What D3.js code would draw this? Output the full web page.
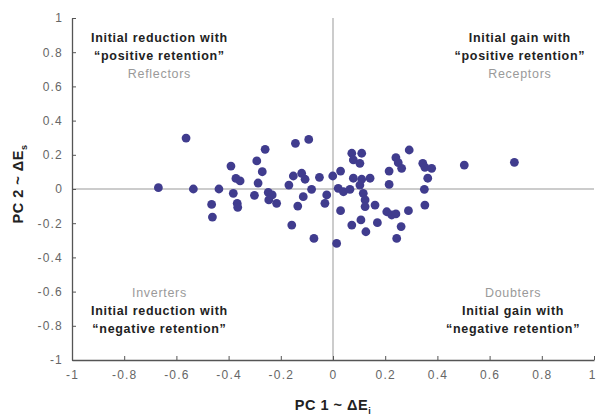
<!DOCTYPE html>
<html>
<head>
<meta charset="utf-8">
<script src="https://cdn.jsdelivr.net/npm/d3@7"></script>
<style>
  body { margin: 0; background: #fff; }
  svg { display: block; font-family: "Liberation Sans", Arial, sans-serif; }
</style>
</head>
<body>
<div id="chart"></div>
<script>
// PC1 (ΔE_i) and PC2 (ΔE_s) scores
const pc1 = [-0.669, -0.563, -0.535, -0.437, -0.465, -0.462, -0.391, -0.372, -0.356, -0.382,
  -0.367, -0.365, -0.26, -0.292, -0.271, -0.287, -0.301, -0.248, -0.233, -0.246,
  -0.216, -0.144, -0.152, -0.169, -0.135, -0.158, -0.093, -0.12, -0.107, -0.052,
  -0.082, -0.114, -0.073, 0.014, -0.001, 0.029, -0.024, -0.031, 0.02, 0.04,
  0.029, 0.072, 0.11, 0.078, 0.103, 0.078, 0.11, 0.142, 0.065, 0.103,
  0.116, 0.123, 0.123, 0.161, 0.072, 0.107, 0.126, 0.17, 0.215, 0.215,
  0.241, 0.25, 0.263, 0.292, 0.206, 0.225, 0.241, 0.289, 0.261, 0.244,
  0.344, 0.352, 0.378, 0.363, 0.35, 0.352, 0.503, 0.695];
const pc2 = [0.008, 0.298, 0.0, 0.0, -0.09, -0.164, 0.134, 0.062, 0.047, -0.025,
  -0.084, -0.107, 0.232, 0.164, 0.101, 0.035, -0.037, -0.02, -0.035, -0.064,
  -0.084, 0.267, 0.076, 0.023, -0.1, -0.211, 0.29, 0.092, 0.057, 0.068,
  -0.002, -0.045, -0.289, -0.318, 0.076, 0.105, -0.035, -0.084, 0.004, -0.016,
  -0.127, 0.209, 0.209, 0.17, 0.15, 0.063, 0.057, 0.063, -0.002, 0.023,
  -0.025, -0.064, -0.103, -0.094, -0.211, -0.181, -0.25, -0.197, 0.105, 0.027,
  0.183, 0.154, 0.121, 0.228, -0.133, -0.152, -0.146, -0.127, -0.22, -0.289,
  0.15, 0.127, 0.121, 0.063, -0.002, -0.094, 0.14, 0.156];

const ticks = [-1, -0.8, -0.6, -0.4, -0.2, 0, 0.2, 0.4, 0.6, 0.8, 1];

// quadrant notes; the grey line is marked with "~"
const notes = [
  { x: -0.665, y: 0.86, lines: ["Initial reduction with", "\u201Cpositive retention\u201D", "~Reflectors"] },
  { x: 0.716, y: 0.86, lines: ["Initial gain with", "\u201Cpositive retention\u201D", "~Receptors"] },
  { x: -0.665, y: -0.632, lines: ["~Inverters", "Initial reduction with", "\u201Cnegative retention\u201D"] },
  { x: 0.69, y: -0.632, lines: ["~Doubters", "Initial gain with", "\u201Cnegative retention\u201D"] }
];

const width = 596, height = 417;
const svg = d3.select("#chart").append("svg").attr("width", width).attr("height", height);

const x = d3.scaleLinear().domain([-1, 1]).range([72, 594]);
const y = d3.scaleLinear().domain([-1, 1]).range([360, 18]);

// centre cross
svg.append("line").attr("x1", x(0)).attr("x2", x(0)).attr("y1", y(1)).attr("y2", y(-1))
  .attr("stroke", "#999").attr("stroke-width", 1);
svg.append("line").attr("x1", x(-1)).attr("x2", x(1)).attr("y1", y(0)).attr("y2", y(0))
  .attr("stroke", "#999").attr("stroke-width", 1);

const fmt = d => d === 0 ? "0" : String(d);
const xAxis = svg.append("g").attr("transform", `translate(0,${y(-1)})`)
  .call(d3.axisBottom(x).tickValues(ticks).tickFormat(fmt).tickSizeInner(-4).tickSizeOuter(0).tickPadding(10));
const yAxis = svg.append("g").attr("transform", `translate(${x(-1)},0)`)
  .call(d3.axisLeft(y).tickValues(ticks).tickFormat(fmt).tickSizeInner(-4).tickSizeOuter(0).tickPadding(9));
[xAxis, yAxis].forEach(a => {
  a.select(".domain").attr("stroke", "#555").attr("stroke-width", 1.3);
  a.selectAll(".tick line").attr("stroke", "#555");
  a.selectAll(".tick text").attr("fill", "#666").style("font-size", "12px")
    .style("letter-spacing", "1.2px").style("font-family", "Liberation Sans, Arial, sans-serif");
});
// last x label sits right at the edge; keep it inside
xAxis.selectAll(".tick text").filter(d => d === 1).attr("text-anchor", "end").attr("dx", 2);

// points
svg.append("g").selectAll("circle").data(pc1.map((v, i) => [v, pc2[i]])).join("circle")
  .attr("cx", d => x(d[0])).attr("cy", d => y(d[1])).attr("r", 4.4)
  .attr("fill", "#403c8e");

// quadrant notes
notes.forEach(n => {
  n.lines.forEach((l, i) => {
    const grey = l.startsWith("~");
    svg.append("text").attr("x", x(n.x)).attr("y", y(n.y) + i * 18)
      .attr("text-anchor", "middle")
      .attr("fill", grey ? "#9a9a9a" : "#222")
      .style("font-size", "12.5px").style("letter-spacing", "0.7px")
      .style("font-weight", grey ? "normal" : "bold")
      .text(grey ? l.slice(1) : l);
  });
});

// axis titles
const xt = svg.append("text").attr("x", x(0)).attr("y", 410).attr("text-anchor", "middle")
  .style("font-size", "14.5px").style("font-weight", "bold").style("letter-spacing", "0.5px").attr("fill", "#222");
xt.append("tspan").text("PC 1 ~ \u0394E");
xt.append("tspan").attr("dy", 4).style("font-size", "9px").text("i");

const yt = svg.append("text").attr("transform", `translate(23,184) rotate(-90)`).attr("text-anchor", "middle")
  .style("font-size", "14.5px").style("font-weight", "bold").style("letter-spacing", "0.5px").attr("fill", "#222");
yt.append("tspan").text("PC 2 ~ \u0394E");
yt.append("tspan").attr("dy", 4).style("font-size", "9px").text("s");
</script>
</body>
</html>
